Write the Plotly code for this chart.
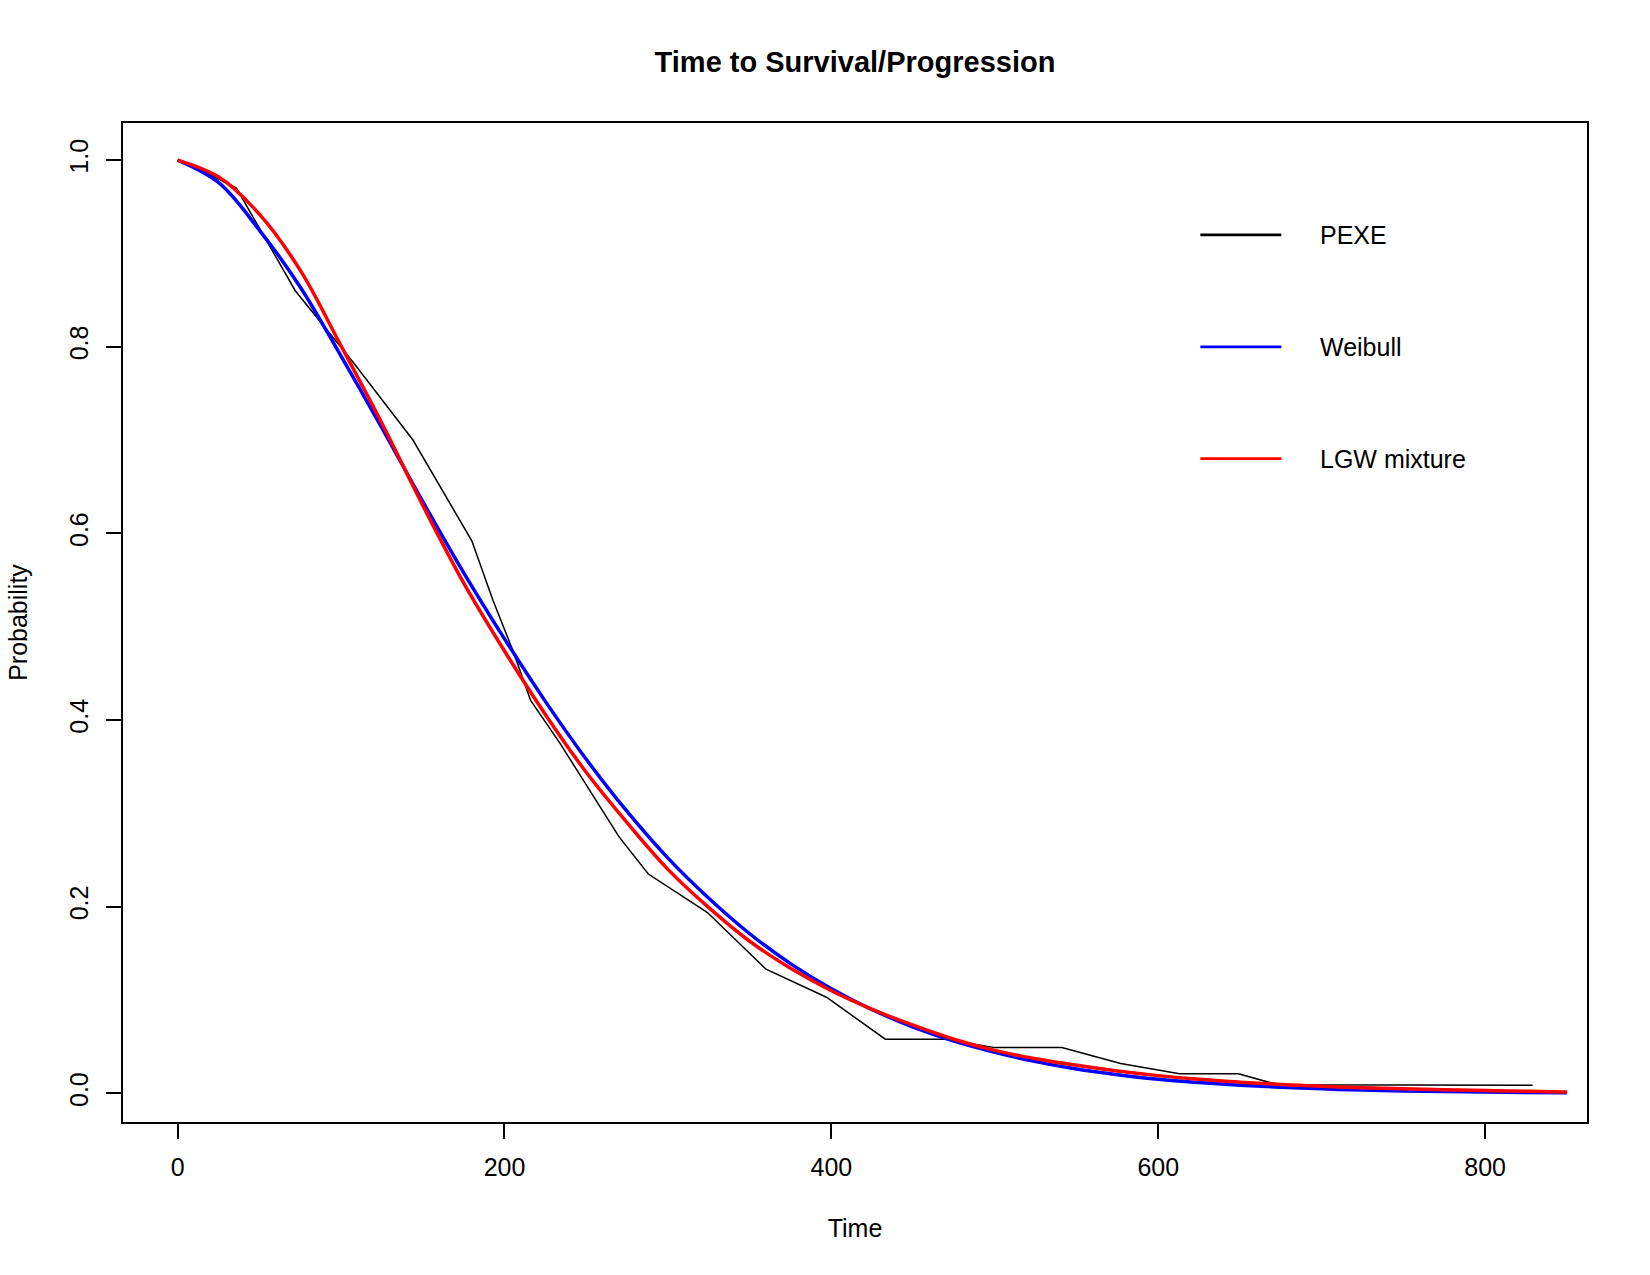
import plotly.graph_objects as go

# ---- data ----
time_pexe = [0, 18, 36, 72, 108, 144, 180, 193, 205, 216, 234, 252, 270, 288,
             324, 360, 397, 433, 470, 500, 541, 577, 613, 649, 673, 829]
surv_pexe = [1.000, 0.986, 0.970, 0.860, 0.782, 0.700, 0.592, 0.528, 0.475, 0.421,
             0.375, 0.325, 0.275, 0.235, 0.194, 0.133, 0.103, 0.058, 0.058, 0.049,
             0.049, 0.032, 0.021, 0.021, 0.0093, 0.0087]

time_fit = [0, 25, 50, 75, 100, 125, 150, 175, 200, 225, 250, 275, 300, 325, 350,
            375, 400, 425, 450, 475, 500, 525, 550, 575, 600, 625, 650, 675, 700,
            725, 750, 775, 800, 825, 850]
surv_weibull = [1.000, 0.976, 0.925, 0.864, 0.790, 0.713, 0.634, 0.558, 0.487, 0.420,
                0.358, 0.302, 0.252, 0.209, 0.171, 0.139, 0.112, 0.0896, 0.071, 0.056,
                0.044, 0.034, 0.026, 0.020, 0.015, 0.0115, 0.0087, 0.0065, 0.0048,
                0.0035, 0.0026, 0.0019, 0.0014, 0.0010, 0.0007]
surv_lgw = [1.000, 0.982, 0.942, 0.882, 0.801, 0.718, 0.630, 0.547, 0.474, 0.406,
            0.344, 0.290, 0.240, 0.199, 0.163, 0.134, 0.110, 0.090, 0.073, 0.058,
            0.046, 0.037, 0.030, 0.024, 0.019, 0.015, 0.012, 0.0095, 0.0075, 0.0060,
            0.0048, 0.0038, 0.0030, 0.0022, 0.0015]

x_ticks = [0, 200, 400, 600, 800]
y_ticks = [0.0, 0.2, 0.4, 0.6, 0.8, 1.0]
y_ticktext = ["0.0", "0.2", "0.4", "0.6", "0.8", "1.0"]

legend_names = ["PEXE", "Weibull", "LGW mixture"]
legend_colors = ["#000000", "#0000FF", "#FF0000"]

FONT = "Liberation Sans, Arial, Helvetica, sans-serif"

fig = go.Figure()
fig.add_trace(go.Scatter(x=time_pexe, y=surv_pexe, mode="lines", name="PEXE",
                         line=dict(color="#000000", width=1.5), showlegend=False))
fig.add_trace(go.Scatter(x=time_fit, y=surv_weibull, mode="lines", name="Weibull",
                         line=dict(color="#0000FF", width=3.5, shape="spline"),
                         showlegend=False))
fig.add_trace(go.Scatter(x=time_fit, y=surv_lgw, mode="lines", name="LGW mixture",
                         line=dict(color="#FF0000", width=3.5, shape="spline"),
                         showlegend=False))

# legend drawn as in the R plot (no box, wide spacing)
leg_y = [0.888, 0.776, 0.664]
leg_w = [2.6, 2.8, 2.8]
for name, col, yy, w in zip(legend_names, legend_colors, leg_y, leg_w):
    fig.add_shape(type="line", xref="paper", yref="paper", x0=0.7359, x1=0.7912,
                  y0=yy, y1=yy, line=dict(color=col, width=w))
    fig.add_annotation(text=name, xref="paper", yref="paper", x=0.8163, y=yy,
                       xanchor="left", yanchor="middle", showarrow=False,
                       font=dict(family=FONT, size=25, color="#000000"))

fig.update_layout(
    width=1650, height=1275,
    margin=dict(l=123, r=63, t=123, b=153),
    paper_bgcolor="white", plot_bgcolor="white",
    font=dict(family=FONT, size=25, color="#000000"),
    title=dict(text="<b>Time to Survival/Progression</b>", x=0.5, xref="paper",
               xanchor="center", y=1 - 62 / 1275, yref="container", yanchor="middle",
               font=dict(family=FONT, size=29, color="#000000")),
)
fig.update_xaxes(range=[-33.4, 862.3], tickvals=x_ticks, ticks="outside", ticklen=15,
                 tickwidth=1.5, tickcolor="#000000", showgrid=False, zeroline=False,
                 showline=True, mirror=True, linecolor="#000000", linewidth=1.5,
                 ticklabelstandoff=7,
                 title=dict(text="Time", standoff=40,
                            font=dict(family=FONT, size=25, color="#000000")))
fig.update_yaxes(range=[-0.0307, 1.0397], tickvals=y_ticks, ticktext=y_ticktext,
                 tickangle=-90, ticks="outside", ticklen=15, tickwidth=1.5,
                 tickcolor="#000000", showgrid=False, zeroline=False,
                 showline=True, mirror=True, linecolor="#000000", linewidth=1.5,
                 ticklabelstandoff=8,
                 title=dict(text="Probability", standoff=31,
                            font=dict(family=FONT, size=25, color="#000000")))

fig.write_html("out.html")
